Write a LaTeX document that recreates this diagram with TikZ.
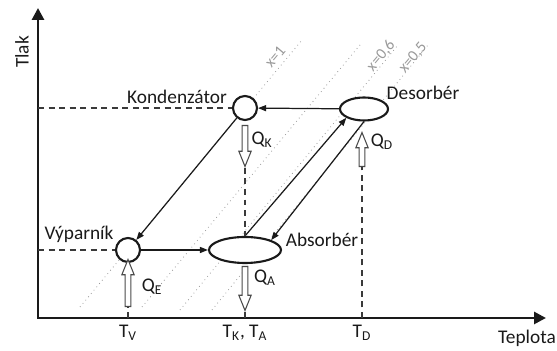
\documentclass[tikz,border=0pt]{standalone}
\usepackage{fontspec}
\setmainfont{Carlito}
\usepackage{xcolor}
\usepackage{tikz}
\usetikzlibrary{arrows.meta,shapes.geometric,shapes.arrows}
\definecolor{abInk}{HTML}{1A1A1A}
\definecolor{abDash}{HTML}{3A3A3A}
\definecolor{abGuide}{HTML}{9A9A9A}
\definecolor{abHeat}{HTML}{4A4A4A}
\tikzset{
  ab diagram/.style={font=\fontsize{11}{13}\selectfont, text=abInk,
    line cap=butt, line join=miter},
  ab vessel/.style={circle, draw=abInk, fill=white, line width=1.2pt,
    minimum size=0.48cm, inner sep=0pt},
  ab tank/.style={ellipse, draw=abInk, fill=white, line width=1.2pt,
    inner sep=0pt},
  ab flow/.style={-{Triangle[length=1.6mm,width=1.2mm]}, draw=abInk,
    line width=0.7pt},
  ab axis/.style={{Triangle[length=2.4mm,width=2.4mm]}-{Triangle[length=2.4mm,width=2.4mm]},
    draw=abInk, line width=1.6pt},
  ab level/.style={draw=abDash, line width=0.9pt, dash pattern=on 3.4pt off 2.6pt},
  ab guide/.style={draw=abGuide, line width=0.45pt, dotted},
  ab guide label/.style={font=\fontsize{9}{10}\selectfont, text=abGuide,
    rotate=50, inner sep=0pt},
  ab heat/.style={single arrow, draw=abHeat, fill=white, line width=0.6pt,
    inner sep=1.3pt, single arrow head extend=1.9pt,
    single arrow tip angle=44, single arrow head indent=0pt}
}

\begin{document}
\begin{tikzpicture}[ab diagram]
\useasboundingbox (0,0) rectangle (11.14,7.02);
% isosteres
\draw[ab guide] (1.60,0.88) -- (6.04,6.22);
\draw[ab guide] (2.84,0.88) -- (7.20,6.12);
\draw[ab guide] (3.60,0.82) -- (7.96,6.12);
\draw[ab guide] (4.24,0.82) -- (8.56,6.12);
\node[ab guide label] (x1) at (5.50,5.88) {x=1};
\node[ab guide label] (x06) at (7.62,5.90) {x=0,6};
\node[ab guide label] (x05) at (8.26,5.86) {x=0,5};
% axes
\coordinate (O) at (0.76,0.66);
\coordinate (yTop) at (0.76,6.86);
\coordinate (xEnd) at (10.92,0.66);
\draw[ab axis] (yTop) -- (O) -- (xEnd);
\node[rotate=90] (tlak) at (0.44,5.98) {Tlak};
\node (teplota) at (10.54,0.26) {Teplota};
% components
\node[ab vessel] (K) at (4.90,4.86) {};
\node[ab vessel] (V) at (2.56,2.02) {};
\node[ab tank, minimum width=0.96cm, minimum height=0.46cm] (D) at (7.28,4.84) {};
\node[ab tank, minimum width=1.44cm, minimum height=0.52cm] (A) at (4.90,2.02) {};
\node (kondLabel) at (3.54,5.08) {Kondenzátor};
\node (desLabel) at (8.46,5.16) {Desorbér};
\node (vypLabel) at (1.58,2.34) {Výparník};
\node (absLabel) at (6.44,2.22) {Absorbér};
% pressure levels
\draw[ab level] (O |- K) -- (K);
\draw[ab level] (O |- V) -- (V);
% circuit
\draw[ab flow] (D) -- (K);
\draw[ab flow] (K) -- (V);
\draw[ab flow] (V) -- (A);
\draw[ab flow] (A.north) -- (D.south west);
\draw[ab flow] (D.south) -- (A.north east);
% heat
\node[ab heat, shape border rotate=270, minimum height=0.82cm] (qkArrow) at (4.90,4.17) {};
\node[ab heat, shape border rotate=270, minimum height=0.88cm] (qaArrow) at (4.90,1.32) {};
\node[ab heat, shape border rotate=90, minimum height=0.94cm] (qeArrow) at (2.56,1.29) {};
\node[ab heat, shape border rotate=90, minimum height=0.68cm] (qdArrow) at (7.24,3.96) {};
\node (qkLabel) at (5.24,4.22) {Q\textsubscript{K}};
\node (qdLabel) at (7.64,4.18) {Q\textsubscript{D}};
\node (qeLabel) at (3.04,1.28) {Q\textsubscript{E}};
\node (qaLabel) at (5.30,1.46) {Q\textsubscript{A}};
% temperatures
\coordinate (tV) at (2.56,0.66);
\coordinate (tKA) at (4.90,0.66);
\coordinate (tD) at (7.24,0.66);
\draw[ab level] (qkArrow.tip) -- (A.north);
\draw[ab level] (qaArrow.tip) -- (tKA);
\draw[ab level] (tV) -- (qeArrow.tail);
\draw[ab level] (tD) -- (qdArrow.tail);
\node (tvLabel) at (2.56,0.36) {T\textsubscript{V}};
\node (tkaLabel) at (4.90,0.36) {T\textsubscript{K}, T\textsubscript{A}};
\node (tdLabel) at (7.24,0.36) {T\textsubscript{D}};
\end{tikzpicture}
\end{document}
